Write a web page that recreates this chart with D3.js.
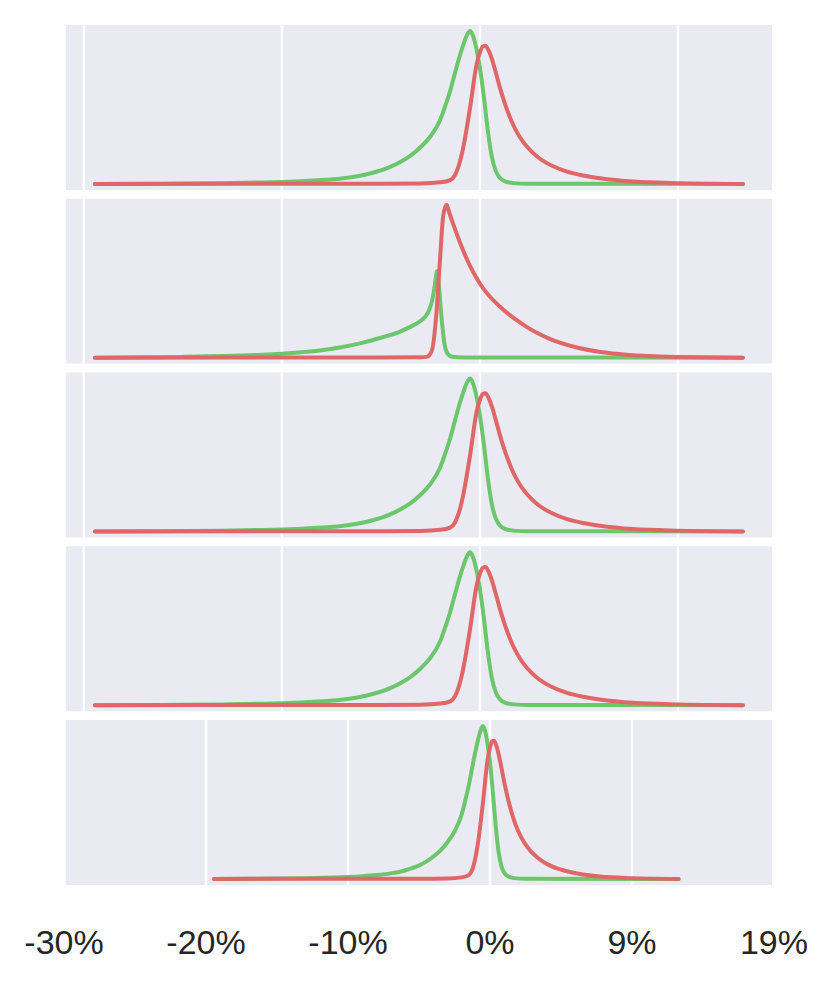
<!DOCTYPE html>
<html>
<head>
<meta charset="utf-8">
<script src="https://cdn.jsdelivr.net/npm/d3@7"></script>
<style>
  html, body { margin: 0; padding: 0; background: #ffffff; }
  svg { display: block; }
</style>
</head>
<body>
<svg id="chart" width="832" height="984"></svg>
<script>
// ---------- DATA (x in %, y = relative density, tallest peak = 1) ----------
// Panels 1, 3, 4, 5
const greenX_A = [-19.44, -17, -15, -13, -11, -10, -9, -8, -7, -6, -5.5, -5, -4.5, -4, -3.5, -3, -2.5, -2, -1.75, -1.5, -1.25, -1.0, -0.8, -0.65, -0.5, -0.35, -0.2, 0, 0.2, 0.4, 0.6, 0.8, 1.0, 1.3, 1.7, 2.5, 13.28];
const greenY_A = [0, 0.001, 0.0025, 0.005, 0.0095, 0.013, 0.018, 0.025, 0.036, 0.055, 0.07, 0.088, 0.113, 0.145, 0.185, 0.24, 0.31, 0.42, 0.51, 0.61, 0.73, 0.845, 0.925, 0.975, 1.0, 0.97, 0.9, 0.76, 0.57, 0.35, 0.18, 0.085, 0.04, 0.015, 0.005, 0.001, 0];
const redX_A = [-19.44, -5, -3, -2, -1.5, -1.25, -1.0, -0.85, -0.5, -0.17, 0.0, 0.15, 0.28, 0.45, 0.6, 0.8, 1.0, 1.2, 1.4, 1.6, 1.8, 2.0, 2.2, 2.6, 3.0, 3.7, 4.4, 5.2, 6.06, 7.74, 9.9, 13.28];
const redY_A = [0, 0.001, 0.003, 0.01, 0.025, 0.06, 0.15, 0.233, 0.495, 0.78, 0.86, 0.9, 0.905, 0.87, 0.82, 0.73, 0.635, 0.55, 0.475, 0.41, 0.355, 0.31, 0.272, 0.213, 0.168, 0.115, 0.08, 0.055, 0.037, 0.015, 0.005, 0];
// Panel 2
const greenX_B = [-19.44, -17, -15, -13, -11, -10, -9, -8, -7, -6, -5, -4, -3.5, -3, -2.75, -2.55, -2.4, -2.28, -2.17, -2.08, -1.95, -1.8, -1.65, -1.4, -0.8, 13.28];
const greenY_B = [0, 0.002, 0.005, 0.01, 0.019, 0.026, 0.036, 0.049, 0.068, 0.095, 0.13, 0.172, 0.203, 0.24, 0.27, 0.315, 0.38, 0.47, 0.565, 0.48, 0.28, 0.1, 0.03, 0.006, 0.001, 0];
const redX_B = [-19.44, -5, -3, -2.69, -2.44, -2.19, -2.02, -1.85, -1.68, -1.55, -1.35, -1.01, -0.5, 0, 0.5, 1.0, 1.5, 2.0, 2.5, 3.0, 3.5, 4.0, 5.0, 6.0, 7.0, 8.25, 9.9, 13.28];
const redY_B = [0, 0.001, 0.003, 0.005, 0.04, 0.3, 0.63, 0.93, 1.0, 0.95, 0.875, 0.755, 0.6, 0.485, 0.4, 0.335, 0.28, 0.232, 0.19, 0.155, 0.125, 0.1, 0.063, 0.039, 0.024, 0.012, 0.004, 0];

const panelSeries = ["A", "B", "A", "A", "A"];
const gridTicks = [-20, -10, 0, 10];
const labelTicks = [-30, -20, -10, 0, 10, 20];
const labelTexts = ["-30%", "-20%", "-10%", "0%", "9%", "19%"];
const topDomain = [-20.9, 14.75];
const bottomDomain = [-29.86, 19.86];

// ---------- LAYOUT ----------
const svg = d3.select("#chart");
const left = 66, right = 772;
const panelTop0 = 25, panelStep = 173.75, panelH = 165;
const green = "#6cc66c", red = "#df6767";

const series = {
  A: { g: greenX_A.map((x, i) => [x, greenY_A[i]]), r: redX_A.map((x, i) => [x, redY_A[i]]) },
  B: { g: greenX_B.map((x, i) => [x, greenY_B[i]]), r: redX_B.map((x, i) => [x, redY_B[i]]) }
};

let bottomX = null;
panelSeries.forEach((key, i) => {
  const top = panelTop0 + i * panelStep;
  const isLast = i === panelSeries.length - 1;
  const x = d3.scaleLinear().domain(isLast ? bottomDomain : topDomain).range([left, right]);
  const y = d3.scaleLinear().domain([-0.04, 1.04]).range([top + panelH, top]);
  if (isLast) bottomX = x;

  const g = svg.append("g");
  g.append("rect").attr("x", left).attr("y", top).attr("width", right - left).attr("height", panelH).attr("fill", "#eaeaf2");
  g.selectAll("line.grid").data(gridTicks).enter().append("line")
    .attr("class", "grid")
    .attr("x1", d => x(d)).attr("x2", d => x(d))
    .attr("y1", top).attr("y2", top + panelH)
    .attr("stroke", "#ffffff").attr("stroke-width", 2.5);

  const line = d3.line().x(d => x(d[0])).y(d => y(d[1])).curve(d3.curveMonotoneX);
  g.append("path").datum(series[key].g).attr("d", line)
    .attr("fill", "none").attr("stroke", green).attr("stroke-width", 4)
    .attr("stroke-linecap", "round").attr("stroke-linejoin", "round");
  g.append("path").datum(series[key].r).attr("d", line)
    .attr("fill", "none").attr("stroke", red).attr("stroke-width", 4)
    .attr("stroke-linecap", "round").attr("stroke-linejoin", "round");
});

// ---------- X LABELS ----------
svg.append("g").selectAll("text").data(labelTicks).enter().append("text")
  .attr("x", d => bottomX(d))
  .attr("y", 954)
  .attr("text-anchor", "middle")
  .attr("font-family", "'Liberation Sans', Arial, sans-serif")
  .attr("font-size", 34)
  .attr("fill", "#262626")
  .text((d, i) => labelTexts[i]);
</script>
</body>
</html>
